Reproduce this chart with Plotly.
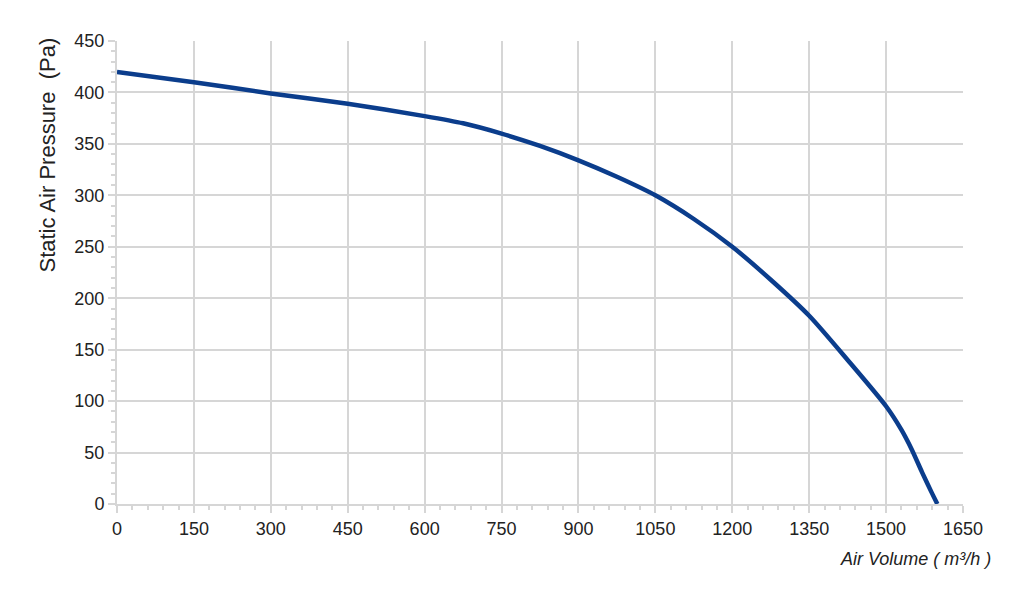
"""Fan performance curve: static air pressure vs air volume."""
import plotly.graph_objects as go

air_volume = [0, 150, 300, 450, 600, 675, 750, 825, 900, 975, 1050, 1125, 1200,
              1275, 1350, 1425, 1500, 1530, 1550, 1570, 1588, 1600]
static_pressure = [420, 410, 399, 389, 377, 370, 360, 348, 334, 318, 300, 277, 250,
                   218, 183, 140, 95, 72, 53, 31, 12, 0]

x_ticks = [0, 150, 300, 450, 600, 750, 900, 1050, 1200, 1350, 1500, 1650]
y_ticks = [0, 50, 100, 150, 200, 250, 300, 350, 400, 450]

grid = '#d6d6d6'
text_col = '#222222'
font = 'Liberation Sans, Arial, sans-serif'

fig = go.Figure()
fig.add_trace(go.Scatter(
    x=air_volume, y=static_pressure,
    mode='lines',
    line=dict(color='#0b3d8c', width=4.5, shape='spline', smoothing=0.7),
    showlegend=False,
))

axis_common = dict(
    showgrid=True, gridcolor=grid, gridwidth=2,
    showline=True, linecolor=grid, linewidth=2,
    ticks='outside', ticklen=7, tickcolor=grid, tickwidth=2,
    tickfont=dict(size=18, color=text_col, family=font),
    zeroline=False,
)

fig.update_xaxes(
    range=[0, 1650], tickvals=x_ticks,
    minor=dict(dtick=30, ticks='outside', ticklen=4, tickcolor=grid, tickwidth=2, showgrid=False),
    **axis_common,
)
fig.update_yaxes(
    range=[0, 450], tickvals=y_ticks,
    minor=dict(dtick=10, ticks='outside', ticklen=4, tickcolor=grid, tickwidth=2, showgrid=False),
    **axis_common,
)

# y title is pushed toward the top of the axis, not centred
fig.add_annotation(
    text='Static Air Pressure  (Pa)',
    xref='paper', yref='paper', x=-0.082, y=0.754,
    xanchor='center', yanchor='middle', textangle=-90, showarrow=False,
    font=dict(size=22, color=text_col, family=font),
)

# x title sits at the bottom right, past the plot edge
fig.add_annotation(
    text='<i>Air Volume ( m³/h )</i>',
    xref='paper', yref='paper', x=1.036, y=-0.118,
    xanchor='right', yanchor='middle', showarrow=False,
    font=dict(size=18, color=text_col, family=font),
)

# page body adds ~8px offset, so shrink the figure to compensate
fig.update_layout(
    width=1016, height=592,
    margin=dict(l=109, r=61, t=33, b=96),
    plot_bgcolor='white', paper_bgcolor='white',
)

fig.write_html('out.html')
